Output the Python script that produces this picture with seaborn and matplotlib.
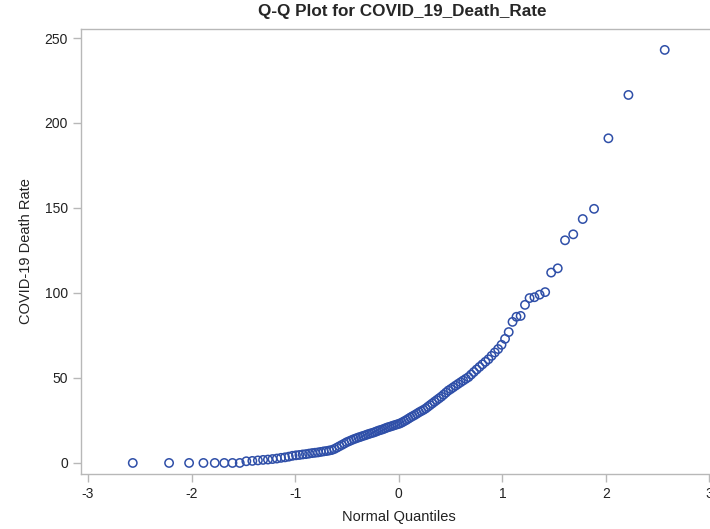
from statistics import NormalDist
import pandas as pd
import seaborn as sns
import matplotlib.pyplot as plt

# sorted COVID-19 death rates
death_rate = [
    0, 0, 0, 0, 0, 0, 0, 0,
    1.0, 1.2, 1.5, 1.8, 2.0, 2.3, 2.6, 3.0, 3.3, 3.7, 4.2,
    4.5, 4.7, 5.0, 5.2, 5.5, 5.8, 6.0, 6.2, 6.5, 6.8, 7.0, 7.3, 7.6, 8.2, 9.0, 9.8, 10.6, 11.4, 12.2,
    12.8, 13.4, 14.0, 14.5, 15.0, 15.4, 15.9, 16.3, 16.8, 17.2, 17.6, 18.0, 18.5, 19.0, 19.4, 19.8,
    20.3, 20.8, 21.2, 21.6, 22.0, 22.4, 22.8,
    23.2, 23.8, 24.5, 25.2, 26.0, 26.8, 27.5, 28.2, 29.0, 29.8, 30.5, 31.2, 32.0, 33.0, 34.0, 35.0,
    36.0, 37.0, 38.0, 39.0, 40.2, 41.4, 42.6,
    43.5, 44.5, 45.5, 46.5, 47.5, 48.5, 49.5, 50.5, 52.0, 53.5, 55.0, 56.5, 58.0, 59.5, 61.0, 63.0,
    65.0, 67.0, 69.5,
    73, 77, 83, 86, 86.5, 93, 97, 97.5, 99, 100.5, 112, 114.5, 131, 134.5, 143.5, 149.5, 191, 216.5, 243,
]
x_ticks = [-3, -2, -1, 0, 1, 2, 3]
y_ticks = [0, 50, 100, 150, 200, 250]


def normal_quantiles(n):
    """Blom plotting positions, as SAS uses for QQ plots"""
    nd = NormalDist()
    return [nd.inv_cdf((i - 0.375) / (n + 0.25)) for i in range(1, n + 1)]


if __name__ == "__main__":
    df = pd.DataFrame({"rate": sorted(death_rate)})
    df["quantile"] = normal_quantiles(len(df))

    sns.set_style("white")
    plt.rcParams["font.family"] = ["Liberation Sans", "DejaVu Sans"]
    plt.rcParams["axes.unicode_minus"] = False

    fig = plt.figure(figsize=(7.1, 5.29), dpi=100)
    ax = fig.add_axes([81 / 710, 55 / 529, 635.5 / 710, 445 / 529])
    sns.scatterplot(data=df, x="quantile", y="rate", ax=ax, marker="o", s=36,
                    facecolor="none", edgecolor="#2f4fa8", linewidth=1.1)

    ax.set_xlim(-3.068, 3.068)
    ax.set_ylim(-6.5, 255.3)
    ax.set_xticks(x_ticks)
    ax.set_yticks(y_ticks)
    for side in ["left", "bottom", "top", "right"]:
        ax.spines[side].set_color("#b8b8b8")
        ax.spines[side].set_linewidth(1)
    ax.tick_params(axis="both", which="both", length=6, width=1, color="#b8b8b8",
                   labelsize=10, labelcolor="#222222", direction="out",
                   bottom=True, left=True)
    ax.set_xlabel("Normal Quantiles", fontsize=10.5, color="#222222", labelpad=6)
    ax.set_ylabel("COVID-19 Death Rate", fontsize=10.5, color="#222222", labelpad=8)
    fig.suptitle("Q-Q Plot for COVID_19_Death_Rate", x=402 / 710, y=1 - 4 / 529,
                 va="top", fontsize=12.3, fontweight="bold")

    plt.savefig("out.png", dpi=100)
